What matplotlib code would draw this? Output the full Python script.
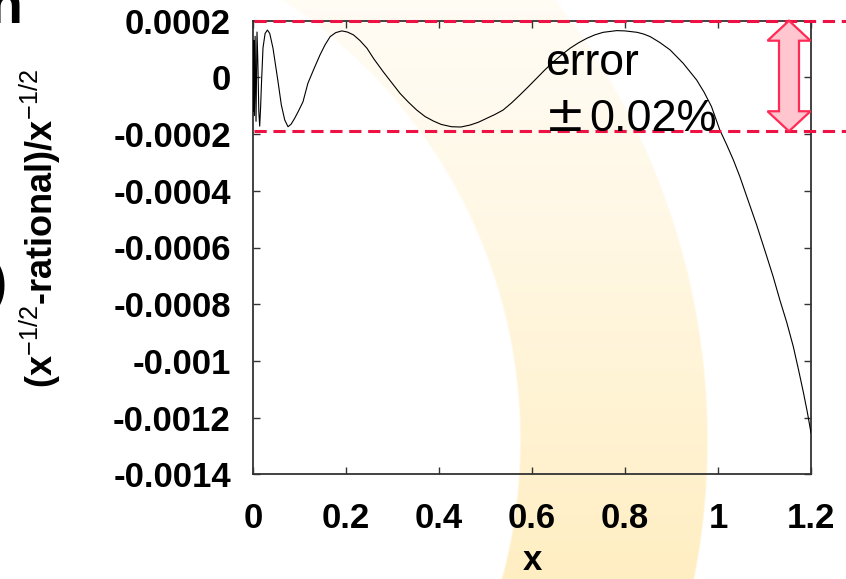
import numpy as np
import matplotlib
matplotlib.use("Agg")
import matplotlib.pyplot as plt
from matplotlib.patches import Polygon

plt.rcParams['font.family'] = ['Liberation Sans', 'DejaVu Sans']
plt.rcParams['mathtext.fontset'] = 'custom'
plt.rcParams['mathtext.rm'] = 'Liberation Sans'
plt.rcParams['mathtext.it'] = 'Liberation Sans'
plt.rcParams['mathtext.bf'] = 'Liberation Sans:bold'

# relative error of the rational approximation to x^(-1/2)
x_vals = [0.0, 0.0008, 0.0018, 0.003, 0.0045, 0.0065, 0.0086, 0.0105, 0.0125,
          0.0144, 0.0165, 0.018, 0.0215, 0.026, 0.031, 0.036, 0.043, 0.0538,
          0.0609, 0.0682, 0.0753, 0.082, 0.0897, 0.098, 0.1075, 0.118, 0.131,
          0.144, 0.155, 0.166, 0.178, 0.191, 0.203, 0.216, 0.23, 0.245, 0.26,
          0.280, 0.298, 0.316, 0.334, 0.352, 0.37, 0.388, 0.405, 0.427, 0.447,
          0.467, 0.485, 0.503, 0.52, 0.538, 0.556, 0.574, 0.592, 0.610, 0.628,
          0.646, 0.664, 0.682, 0.70, 0.718, 0.735, 0.753, 0.782, 0.80, 0.826,
          0.84, 0.854, 0.875, 0.897, 0.925, 0.954, 0.97, 0.986, 1.004, 1.018,
          1.033, 1.047, 1.062, 1.083, 1.105, 1.119, 1.133, 1.148, 1.162, 1.173,
          1.184, 1.192, 1.2]
err_e4 = [1.2, -1.2, 1.3, -1.35, 1.45, -1.55, 1.6, 0.5, -1.2,
          -1.72, -1.0, -0.3, 1.04, 1.55, 1.67, 1.55, 1.03, -0.15,
          -0.97, -1.5, -1.74, -1.65, -1.44, -1.18, -0.86, -0.21, 0.3,
          0.79, 1.15, 1.44, 1.58, 1.64, 1.6, 1.5, 1.3, 1.03, 0.65,
          0.2, -0.18, -0.56, -0.87, -1.15, -1.38, -1.54, -1.66, -1.74, -1.75,
          -1.68, -1.58, -1.44, -1.31, -1.15, -0.9, -0.62, -0.33, -0.03, 0.27,
          0.55, 0.8, 1.03, 1.22, 1.38, 1.5, 1.59, 1.65, 1.64, 1.59,
          1.53, 1.44, 1.23, 0.97, 0.5, -0.09, -0.52, -1.03, -1.86, -2.35,
          -2.91, -3.5, -4.21, -5.2, -6.32, -7.05, -7.85, -8.65, -9.5, -10.3,
          -11.14, -11.8, -12.54]
rel_err = [v * 1e-4 for v in err_e4]

# error band limits
band_hi = 0.0002
band_lo = -0.00019

x_ticks = [0, 0.2, 0.4, 0.6, 0.8, 1.0, 1.2]
x_ticklabels = ["0", "0.2", "0.4", "0.6", "0.8", "1", "1.2"]
y_ticks = [-0.0014, -0.0012, -0.001, -0.0008, -0.0006, -0.0004, -0.0002, 0, 0.0002]
y_ticklabels = ["-0.0014", "-0.0012", "-0.001", "-0.0008", "-0.0006",
                "-0.0004", "-0.0002", "0", "0.0002"]

W, H = 846, 579
L, R, T, B = 253, 811, 20.7, 474.3
xmin, xmax = 0.0, 1.2
ymin, ymax = -0.0014, 0.0002

fig = plt.figure(figsize=(W / 100, H / 100), dpi=100)

# decorative curved band behind the chart
bg = fig.add_axes([0, 0, 1, 1], zorder=0)
yy, xx = np.mgrid[0:H, 0:W]
rr = np.hypot(xx + 7.0, yy - 440.0)
inner, outer = 527.0, 714.0
edge = np.clip(np.minimum(rr - inner, outer - rr) / 2.0 + 0.5, 0, 1)
alpha = (0.10 + 0.48 * (yy / H) ** 1.2) * edge
base = np.array([255, 226, 150]) / 255.0
img = np.ones((H, W, 3))
img = img * (1 - alpha[..., None]) + base[None, None, :] * alpha[..., None]
bg.imshow(img, extent=[0, W, H, 0], aspect='auto', interpolation='bilinear')
bg.set_xlim(0, W)
bg.set_ylim(H, 0)
bg.axis('off')

ax = fig.add_axes([L / W, 1 - B / H, (R - L) / W, (B - T) / H], zorder=1)
ax.patch.set_alpha(0)
ax.set_xlim(xmin, xmax)
ax.set_ylim(ymin, ymax)

ax.plot(x_vals, rel_err, color='black', lw=0.8, zorder=3)

# dashed limits extend past the frame to the right edge
x_ext = xmax + (W - R) / (R - L) * (xmax - xmin)
for yv in (band_hi, band_lo):
    ax.plot([0.003, x_ext], [yv, yv], color='#ee1144', lw=2.2,
            dashes=(4, 2.2), clip_on=False, zorder=4)

# double-headed arrow spanning the band
px_x = (xmax - xmin) / (R - L)
px_y = (ymax - ymin) / (B - T)
xc = xmin + (789 - L) * px_x
head_w, shaft_w, head_l = 21.5 * px_x, 10 * px_x, 20 * px_y
verts = [
    (xc, band_hi),
    (xc + head_w, band_hi - head_l),
    (xc + shaft_w, band_hi - head_l),
    (xc + shaft_w, band_lo + head_l),
    (xc + head_w, band_lo + head_l),
    (xc, band_lo),
    (xc - head_w, band_lo + head_l),
    (xc - shaft_w, band_lo + head_l),
    (xc - shaft_w, band_hi - head_l),
    (xc - head_w, band_hi - head_l),
]
ax.add_patch(Polygon(verts, closed=True, facecolor='#ffc6d0', edgecolor='#ff2a55',
                     lw=1.6, clip_on=False, zorder=5))

ax.text(xmin + (545 - L) * px_x, ymax - (75 - T) * px_y, "error",
        fontsize=32, color='black', va='baseline', ha='left', zorder=6)
ax.text(xmin + (545 - L) * px_x, ymax - (131 - T) * px_y, "\u00b1",
        fontsize=35, color='black', va='baseline', ha='left', zorder=6,
        family='DejaVu Sans')
ax.text(xmin + (589 - L) * px_x, ymax - (131 - T) * px_y, "0.02%",
        fontsize=32.5, color='black', va='baseline', ha='left', zorder=6)

ax.set_xticks(x_ticks)
ax.set_xticklabels(x_ticklabels, fontsize=25, fontweight='bold')
ax.set_yticks(y_ticks)
ax.set_yticklabels(y_ticklabels, fontsize=25, fontweight='bold')
ax.tick_params(axis='both', direction='in', length=5, width=1.0,
               top=True, right=True, color='#333333')
ax.tick_params(axis='x', pad=20)
ax.tick_params(axis='y', pad=16)
for s in ax.spines.values():
    s.set_color('#333333')
    s.set_linewidth(1.3)

fig.text(532 / W, 1 - 561 / H, "x", fontsize=25, fontweight='bold',
         ha='center', va='center')
fig.text(40 / W, 1 - 228 / H,
         r"(x$^{\mathrm{-1/2}}$-rational)/x$^{\mathrm{-1/2}}$",
         fontsize=26, fontweight='bold', rotation=90, ha='center', va='center')

# fragments of neighbouring slide text at the edges
fig.text(-12 / W, 1 - 22.7 / H, "n", fontsize=40, fontweight='bold',
         ha='left', va='baseline')
fig.text(8 / W, 1 - 285 / H, ")", fontsize=44, ha='right', va='center')

fig.savefig("out.png", dpi=100)
